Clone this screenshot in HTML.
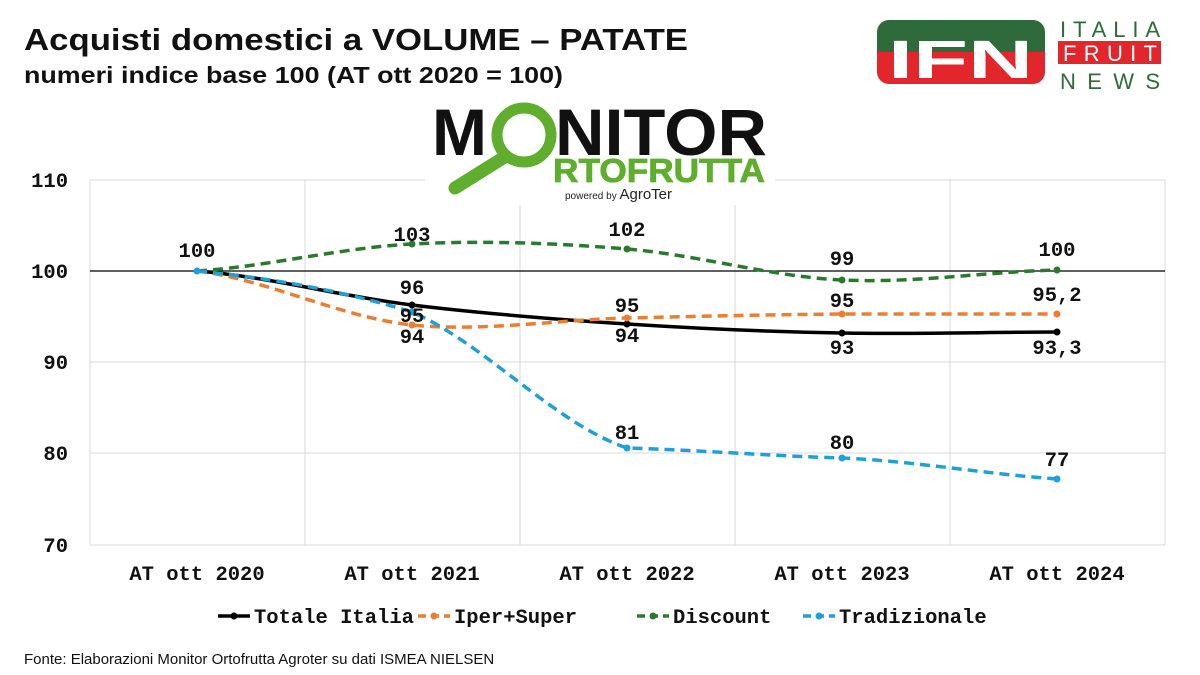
<!DOCTYPE html>
<html><head><meta charset="utf-8"><style>
body{margin:0;background:#fff;}
svg{display:block}
.t{font-family:"Liberation Sans",sans-serif;font-weight:bold}
.m{font-family:"Liberation Mono",monospace;font-weight:bold;font-size:20.5px;fill:#111}
</style></head><body>
<svg width="1200" height="675" viewBox="0 0 1200 675">
<rect width="1200" height="675" fill="#fff"/>
<text x="24" y="50" class="t" font-size="31" fill="#111" textLength="664" lengthAdjust="spacingAndGlyphs">Acquisti domestici a VOLUME – PATATE</text>
<text x="24" y="83" class="t" font-size="23" fill="#111" textLength="539" lengthAdjust="spacingAndGlyphs">numeri indice base 100 (AT ott 2020 = 100)</text>
<!-- grid -->
<g stroke="#d9d9d9" stroke-width="1">
<line x1="90" y1="180" x2="1165" y2="180"/>
<line x1="90" y1="362" x2="1165" y2="362"/>
<line x1="90" y1="453" x2="1165" y2="453"/>
<line x1="90" y1="545" x2="1165" y2="545"/>
<line x1="90" y1="180" x2="90" y2="545"/>
<line x1="305" y1="180" x2="305" y2="545"/>
<line x1="520" y1="180" x2="520" y2="545"/>
<line x1="735" y1="180" x2="735" y2="545"/>
<line x1="950" y1="180" x2="950" y2="545"/>
<line x1="1165" y1="180" x2="1165" y2="545"/>
</g>
<line x1="90" y1="271" x2="1165" y2="271" stroke="#000" stroke-width="1.2"/>
<g class="m" text-anchor="end">
<text x="68" y="187">110</text><text x="68" y="278">100</text><text x="68" y="369">90</text><text x="68" y="460">80</text><text x="68" y="552">70</text>
</g>
<g class="m" text-anchor="middle">
<text x="197" y="580">AT ott 2020</text><text x="412" y="580">AT ott 2021</text><text x="627" y="580">AT ott 2022</text><text x="842" y="580">AT ott 2023</text><text x="1057" y="580">AT ott 2024</text>
</g>
<!-- Monitor logo -->
<rect x="425" y="95" width="350" height="110" fill="#fff"/>
<text x="432" y="155" class="t" font-size="66" fill="#111">M</text>
<text x="555" y="155" class="t" font-size="66" fill="#111" textLength="212" lengthAdjust="spacingAndGlyphs">NITOR</text>
<circle cx="524" cy="135" r="27" fill="none" stroke="#5fae2e" stroke-width="11"/>
<line x1="503" y1="158" x2="455" y2="188" stroke="#5fae2e" stroke-width="13" stroke-linecap="round"/>
<text x="553" y="182" class="t" font-size="33" fill="#5fae2e" textLength="212" lengthAdjust="spacingAndGlyphs" stroke="#5fae2e" stroke-width="0.8">RTOFRUTTA</text>
<text x="565" y="199" font-family="Liberation Sans,sans-serif" font-size="10" fill="#222">powered by <tspan font-size="15">AgroTer</tspan></text>
<!-- IFN logo -->
<defs><clipPath id="c"><rect x="877" y="20" width="168" height="64" rx="12"/></clipPath></defs>
<g clip-path="url(#c)"><rect x="877" y="20" width="168" height="32" fill="#2f6b3a"/><rect x="877" y="52" width="168" height="32" fill="#e3262b"/></g>
<text x="888" y="78" class="t" font-size="54" fill="#fff" textLength="145" lengthAdjust="spacingAndGlyphs">IFN</text>
<text x="1060" y="37" font-family="Liberation Sans,sans-serif" font-size="22" fill="#2f6b3a" textLength="100" lengthAdjust="spacing">ITALIA</text>
<rect x="1058" y="41" width="103" height="23" fill="#e3262b"/>
<text x="1063" y="61" font-family="Liberation Sans,sans-serif" font-size="22" fill="#fff" textLength="94" lengthAdjust="spacing">FRUIT</text>
<text x="1060" y="89" font-family="Liberation Sans,sans-serif" font-size="22" fill="#2f6b3a" textLength="100" lengthAdjust="spacing">NEWS</text>
<!-- series -->
<g fill="none" stroke-width="3.5">
<path d="M197,271 C269,276.7 340,296.2 412,305 C484,313.8 555,319.3 627,324 C699,328.7 770,331.7 842,333 C914,334.3 985,332.2 1057,332" stroke="#000"/>
<path d="M197,271 C269,280 340,317.2 412,325 C484,332 555,319.8 627,318 C699,316.2 770,314.7 842,314 L1057,314" stroke="#ED7D31" stroke-dasharray="10,6"/>
<path d="M197,271 C269,266.5 340,247.7 412,244 C484,240.3 555,243 627,249 C699,255 770,276.5 842,280 C914,283.5 985,271.7 1057,270" stroke="#2a7a2e" stroke-dasharray="10,6"/>
<path d="M197,271 C269,277.8 340,290 412,312 C484,343.2 555,423.7 627,448 C699,450 770,456 842,458 C914,461 985,474 1057,479" stroke="#1fa0d8" stroke-dasharray="10,6"/>
</g>
<g>
<circle cx="412" cy="305" r="3.5" fill="#000"/><circle cx="627" cy="324" r="3.5" fill="#000"/><circle cx="842" cy="333" r="3.5" fill="#000"/><circle cx="1057" cy="332" r="3.5" fill="#000"/>
<circle cx="412" cy="325" r="3.5" fill="#ED7D31"/><circle cx="627" cy="318" r="3.5" fill="#ED7D31"/><circle cx="842" cy="314" r="3.5" fill="#ED7D31"/><circle cx="1057" cy="314" r="3.5" fill="#ED7D31"/>
<circle cx="412" cy="244" r="3.5" fill="#2a7a2e"/><circle cx="627" cy="249" r="3.5" fill="#2a7a2e"/><circle cx="842" cy="280" r="3.5" fill="#2a7a2e"/><circle cx="1057" cy="270" r="3.5" fill="#2a7a2e"/>
<circle cx="197" cy="271" r="3.5" fill="#1fa0d8"/><circle cx="412" cy="312" r="3.5" fill="#1fa0d8"/><circle cx="627" cy="448" r="3.5" fill="#1fa0d8"/><circle cx="842" cy="458" r="3.5" fill="#1fa0d8"/><circle cx="1057" cy="479" r="3.5" fill="#1fa0d8"/>
</g>
<g class="m" text-anchor="middle">
<text x="197" y="257">100</text>
<text x="412" y="241">103</text><text x="627" y="236">102</text><text x="842" y="265">99</text><text x="1057" y="256">100</text>
<text x="412" y="294">96</text><text x="412" y="322">95</text><text x="412" y="343">94</text>
<text x="627" y="312">95</text><text x="627" y="342">94</text>
<text x="842" y="307">95</text><text x="842" y="354">93</text>
<text x="1057" y="301">95,2</text><text x="1057" y="354">93,3</text>
<text x="627" y="439">81</text><text x="842" y="449">80</text><text x="1057" y="466">77</text>
</g>
<g stroke-width="3.5">
<line x1="218" y1="616" x2="250" y2="616" stroke="#000"/><circle cx="234" cy="616" r="3.5" fill="#000"/>
<line x1="418" y1="616" x2="450" y2="616" stroke="#ED7D31" stroke-dasharray="8,5"/><circle cx="434" cy="616" r="3.5" fill="#ED7D31"/>
<line x1="637" y1="616" x2="669" y2="616" stroke="#2a7a2e" stroke-dasharray="8,5"/><circle cx="653" cy="616" r="3.5" fill="#2a7a2e"/>
<line x1="803" y1="616" x2="835" y2="616" stroke="#1fa0d8" stroke-dasharray="8,5"/><circle cx="819" cy="616" r="3.5" fill="#1fa0d8"/>
</g>
<g class="m">
<text x="254" y="623">Totale Italia</text><text x="454" y="623">Iper+Super</text><text x="673" y="623">Discount</text><text x="839" y="623">Tradizionale</text>
</g>
<text x="24" y="664" font-family="Liberation Sans,sans-serif" font-size="15" fill="#111">Fonte: Elaborazioni Monitor Ortofrutta Agroter su dati ISMEA NIELSEN</text>
</svg>
</body></html>
